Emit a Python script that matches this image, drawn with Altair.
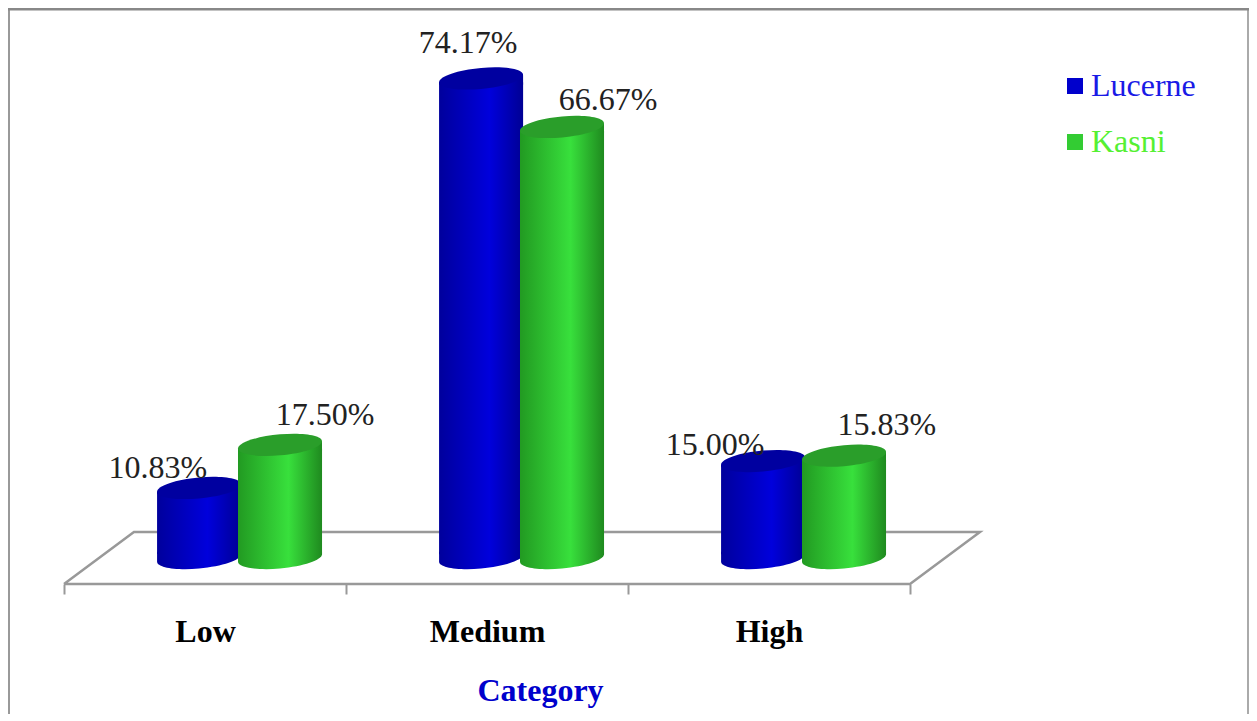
import altair as alt
import pandas as pd

categories = ["Low", "Medium", "High"]
series = ["Lucerne", "Kasni"]
lucerne = [10.83, 74.17, 15.00]
kasni = [17.50, 66.67, 15.83]
lucerne_label_x = [0.333, 1.433, 2.309]
kasni_label_x = [0.926, 1.929, 2.918]
lucerne_label_y = [12.37, 78.11, 15.93]
kasni_label_y = [20.57, 69.30, 19.03]
floor_x = [0, 0.248, 3.248, 3, 0]
floor_y = [-4.02, 4.02, 4.02, -4.02, -4.02]
tick_values = [0, 0.5, 1, 1.5, 2, 2.5, 3]

SERIF = "Liberation Serif"
FONT_SIZE = 32
BAR_HALF = 0.149
TILT_UNITS = 0.57
LOWER = "C-1,0.226 -0.5523,0.2986 0,0.25 C0.5523,0.2014 1,0.05 1,-0.088"
UPPER = "C1,-0.226 0.5523,-0.2986 0,-0.25 C-0.5523,-0.2014 -1,-0.05 -1,0.088"
LID = "M-1,0.088 " + LOWER + " " + UPPER + " Z"
BASE = "M-1,-0.15 L-1,0.088 " + LOWER + " L1,-0.15 Z"
NECK = "M-1,0.088 L1,-0.088 L1,0.15 L-1,0.15 Z"
ELLIPSE_SIZE = 7056

xscale = alt.Scale(domain=[-0.1986, 4.2021], nice=False, zero=False)
yscale = alt.Scale(domain=[-4.02, 85.07], nice=False, zero=False)


def gradient(edge_l, mid, edge_r):
    return alt.Gradient(
        gradient="linear", x1=0, x2=1, y1=0, y2=0,
        stops=[alt.GradientStop(color=edge_l, offset=0),
               alt.GradientStop(color=mid, offset=0.6),
               alt.GradientStop(color=edge_r, offset=1)],
    )


def cylinder(values, offset, body, top):
    df = pd.DataFrame({
        "category": categories,
        "x": [i + offset for i in range(3)],
        "x0": [i + offset - BAR_HALF for i in range(3)],
        "x1": [i + offset + BAR_HALF for i in range(3)],
        "value": values,
        "zero": [0, 0, 0],
        "bar_low": [TILT_UNITS] * 3,
        "bar_high": [v - TILT_UNITS for v in values],
    })
    x = alt.X("x:Q", scale=xscale)
    y = alt.Y("value:Q", scale=yscale)

    def piece(path, fill, field):
        return alt.Chart(df).mark_point(
            shape=path, size=ELLIPSE_SIZE, filled=True, fill=fill, opacity=1,
            strokeWidth=0, clip=False,
        ).encode(x=x, y=alt.Y(field, scale=yscale))

    bar = alt.Chart(df).mark_bar(fill=body, clip=False).encode(
        x=alt.X("x0:Q", scale=xscale), x2="x1:Q",
        y=alt.Y("bar_low:Q", scale=yscale), y2="bar_high:Q",
    )
    return [piece(BASE, body, "zero:Q"), bar, piece(NECK, body, "value:Q"), piece(LID, top, "value:Q")]


floor = alt.Chart(pd.DataFrame({
    "x": floor_x, "y": floor_y, "o": list(range(len(floor_x)))
})).mark_line(color="#999999", strokeWidth=2.5, clip=False).encode(
    x=alt.X("x:Q", scale=xscale, axis=alt.Axis(
        values=tick_values,
        title="Category",
        titleFont=SERIF, titleFontSize=FONT_SIZE, titleFontWeight="bold", titleColor="#0000cc",
        titleX=532, titleY=91, titleAlign="center",
        labelFont=SERIF, labelFontSize=FONT_SIZE, labelFontWeight="bold", labelColor="#000000",
        labelExpr="datum.value == 0.5 ? 'Low' : datum.value == 1.5 ? 'Medium' : datum.value == 2.5 ? 'High' : ''",
        labelPadding=22, labelFlush=False, labelOverlap=False,
        domain=False, grid=False,
        tickColor="#999999", tickWidth=2, tickSize=10,
        tickOpacity={"condition": {"test": "datum.value % 1 != 0", "value": 0}, "value": 1},
    )),
    y=alt.Y("y:Q", scale=yscale, axis=None),
    order="o:Q",
)

blue_layers = cylinder(lucerne, 0.479, gradient("#00009c", "#0000dc", "#000094"), "#0000a0")
green_layers = cylinder(kasni, 0.766, gradient("#229a22", "#38e03c", "#1f8a1f"), "#2a9e2a")

labels = pd.DataFrame({
    "x": lucerne_label_x + kasni_label_x,
    "y": lucerne_label_y + kasni_label_y,
    "value": lucerne + kasni,
})
labels["text"] = labels["value"].map(lambda v: f"{v:.2f}%")
text = alt.Chart(labels).mark_text(
    font=SERIF, fontSize=FONT_SIZE, color="#222222", align="center", baseline="alphabetic", clip=False,
).encode(x=alt.X("x:Q", scale=xscale), y=alt.Y("y:Q", scale=yscale), text="text:N")

legend_df = pd.DataFrame({"series": series, "x": [0, 0], "y": [0, 0]})
legend = alt.Chart(legend_df).mark_point(filled=True, opacity=0).encode(
    x=alt.X("x:Q", scale=xscale),
    y=alt.Y("y:Q", scale=yscale),
    color=alt.Color("series:N", scale=alt.Scale(domain=series, range=["#0000cc", "#33cc33"]),
                    legend=alt.Legend(
                        title=None, orient="none", legendX=1051, legendY=62,
                        symbolType="square", symbolSize=256, symbolOpacity=1, symbolStrokeWidth=0,
                        labelFont=SERIF, labelFontSize=FONT_SIZE,
                        labelColor=alt.ExprRef("datum.label == 'Lucerne' ? '#1a1ae6' : '#55f033'"),
                        rowPadding=24, labelOffset=0, labelLimit=200,
                    )),
)

FRAME = "#999999"
one = pd.DataFrame({"a": [0]})
frame_left = alt.Chart(one).mark_rule(color=FRAME, strokeWidth=2, clip=False).encode(
    x=alt.value(1), y=alt.value(0), y2=alt.value(706))
frame_right = alt.Chart(one).mark_rule(color="#aaaaaa", strokeWidth=2, clip=False).encode(
    x=alt.value(1240), y=alt.value(0), y2=alt.value(706))
frame_top = alt.Chart(one).mark_rule(color="#888888", strokeWidth=3, clip=False).encode(
    y=alt.value(1), x=alt.value(0), x2=alt.value(1241))

chart = alt.layer(
    floor, frame_left, frame_right, frame_top, legend,
    *blue_layers, *green_layers, text,
).properties(
    width=1241, height=576,
    padding={"left": 0, "top": 0, "right": 0, "bottom": 130},
    autosize=alt.AutoSizeParams(type="none"),
    background="#ffffff",
).configure_view(stroke=None)

chart.save("out.html", embed_options={"renderer": "svg", "actions": False})
